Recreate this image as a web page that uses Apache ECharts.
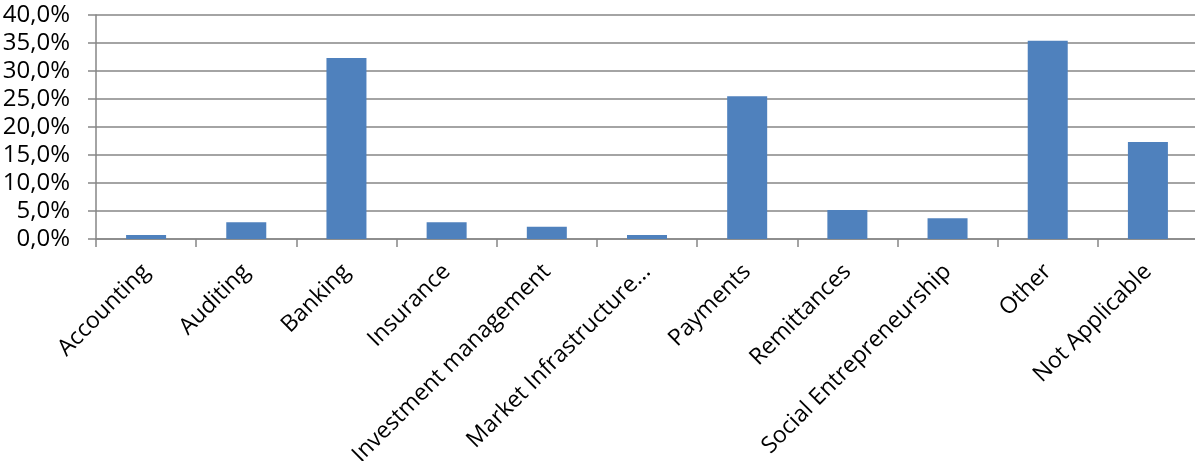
<!DOCTYPE html>
<html>
<head>
<meta charset="utf-8">
<script src="https://cdn.jsdelivr.net/npm/echarts@6/dist/echarts.min.js"></script>
<style>
html,body{margin:0;padding:0;background:#fff;}
#chart{width:1195px;height:461px;}
</style>
</head>
<body>
<div id="chart"></div>
<script>
const categories = ["Accounting","Auditing","Banking","Insurance","Investment management","Market Infrastructure...","Payments","Remittances","Social Entrepreneurship","Other","Not Applicable"];
const values = [0.7, 3.0, 32.3, 3.0, 2.2, 0.7, 25.5, 5.2, 3.7, 35.4, 17.3];
const yMin = 0, yMax = 40, yStep = 5;

const chart = echarts.init(document.getElementById('chart'), null, {renderer:'canvas'});
chart.setOption({
  animation:false,
  backgroundColor:'#ffffff',
  grid:{left:96, top:15, width:1102, height:224, containLabel:false, outerBoundsMode:'none'},
  xAxis:{
    type:'category',
    data:categories,
    boundaryGap:true,
    axisLine:{show:true, lineStyle:{color:'#868686', width:1.5}},
    axisTick:{show:true, length:8, alignWithLabel:false, lineStyle:{color:'#868686', width:1.5}},
    axisLabel:{interval:0, rotate:45, margin:29, color:'#000', fontFamily:'Open Sans', fontSize:23}
  },
  yAxis:{
    type:'value',
    min:yMin, max:yMax, interval:yStep,
    axisLine:{show:true, lineStyle:{color:'#868686', width:1.5}},
    axisTick:{show:true, length:8, inside:false, lineStyle:{color:'#868686', width:1.5}},
    splitLine:{show:true, lineStyle:{color:'#868686', width:1.5}},
    axisLabel:{margin:26, color:'#000', fontFamily:'Open Sans', fontSize:24,
      formatter:function(v){return v.toFixed(1).replace('.', ',') + '%';}}
  },
  series:[{
    type:'bar',
    data:values,
    barWidth:40,
    itemStyle:{color:'#4f81bd'}
  }]
});
</script>
</body>
</html>
